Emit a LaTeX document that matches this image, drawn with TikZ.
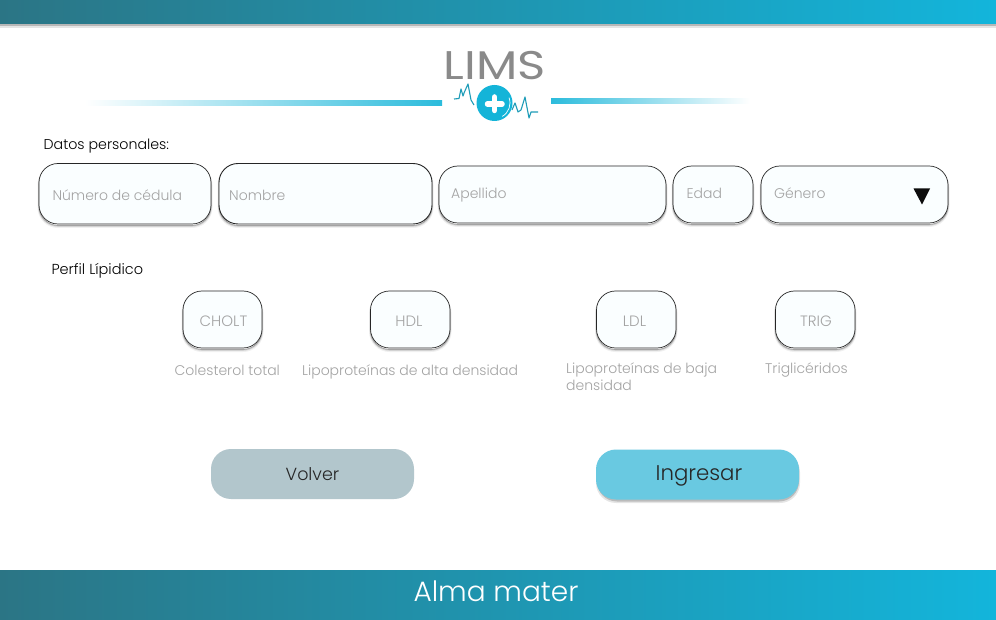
\documentclass[tikz,border=0pt]{standalone}
\usepackage{fontspec}
\setmainfont{Poppins Light}
\newfontfamily\logofont{Poppins}
\usetikzlibrary{calc}
\definecolor{barL}{HTML}{2B7585}
\definecolor{barR}{HTML}{13B5DB}
\definecolor{field}{HTML}{FAFEFF}
\definecolor{hint}{HTML}{A3A3A3}
\definecolor{logoG}{HTML}{8A8A8A}
\definecolor{logoB}{HTML}{14B4D8}
\definecolor{logoL}{HTML}{1E9CB8}
\definecolor{volver}{HTML}{B2C6CC}
\definecolor{ingresar}{HTML}{69C9E1}
\tikzset{
  x=1pt,y=-1pt,
  softshadow/.style={
    preaction={draw=black,draw opacity=.06,line width=3pt,transform canvas={yshift=-2.5pt}},
    preaction={draw=black,draw opacity=.12,line width=1.6pt,transform canvas={yshift=-2pt}},
    preaction={draw=black,draw opacity=.22,line width=.8pt,transform canvas={yshift=-1.5pt}}},
  fieldbox/.style={draw=black!85,line width=.7pt,fill=field,rounded corners=19pt,softshadow},
  hinttext/.style={anchor=base west,text=hint,font=\fontsize{14}{14}\selectfont,inner sep=0pt},
  captext/.style={anchor=base west,text=hint,font=\fontsize{14}{16}\selectfont,inner sep=0pt},
  headtext/.style={anchor=base west,text=black,inner sep=0pt},
  labtext/.style={text=hint,font=\fontsize{15}{15}\selectfont,inner sep=0pt},
  btn/.style={rounded corners=20pt,inner sep=0pt},
  ecg/.style={draw=logoL,line width=1.1pt,line join=round},
}
\begin{document}
\begin{tikzpicture}
\useasboundingbox (0,0) rectangle (996,620);
\fill[white] (0,0) rectangle (996,620);
% bars
\fill[black,opacity=.10] (0,24) rectangle (996,28);
\fill[black,opacity=.20] (0,24) rectangle (996,26);
\path[left color=barL,right color=barR] (0,0) rectangle (996,24);
\path[left color=barL,right color=barR] (0,570) rectangle (996,620);
\node (foot) at (496,591.5) [text=white,font=\fontsize{28}{28}\selectfont,inner sep=0pt] {Alma mater};
% logo
\node (lims) at (494.5,65.5) [text=logoG,font=\logofont\fontsize{40}{40}\selectfont,inner sep=0pt,xscale=1.2] {LIMS};
\path[left color=white,right color=logoB!90] (85,101) rectangle (442,106);
\path[left color=logoB!90,right color=white] (551,99) rectangle (750,104);
\draw[ecg] (454,99) -- (459,98.5) -- (461,89) -- (463,96) -- (464,93) -- (468,84) -- (471,100) -- (474,105);
\draw[ecg] (512,110) -- (515,103) -- (518,112) -- (521,110) -- (525,97) -- (529,118) -- (531,112) -- (538,112);
\fill[logoB] (494.5,103) circle (18);
\draw[white,line width=.7pt] (494.5,103) ++(60:15.5) arc (60:-20:15.5);
\draw[white,line width=5.5pt,line cap=round] (487.5,104) -- (502,104);
\draw[white,line width=5.5pt,line cap=round] (494.5,97) -- (494.5,110.5);
% personal data
\node (dp) at (43.5,150) [headtext,font=\fontsize{14.2}{14}\selectfont] {Datos personales:};
\path[fieldbox] (39,163.5) rectangle (211,224) node (f1) [midway,inner sep=0pt] {};
\path[fieldbox,line width=.9pt] (219,163.5) rectangle (432,224) node (f2) [midway,inner sep=0pt] {};
\path[fieldbox] (439,166) rectangle (666,223) node (f3) [midway,inner sep=0pt] {};
\path[fieldbox] (673,166) rectangle (753,223) node (f4) [midway,inner sep=0pt] {};
\path[fieldbox] (761,166) rectangle (948,223) node (f5) [midway,inner sep=0pt] {};
\node (t1) at (52.3,200.5) [hinttext] {Número de cédula};
\node (t2) at (229,201) [hinttext] {Nombre};
\node (t3) at (451,198.5) [hinttext] {Apellido};
\node (t4) at (686.5,198.5) [hinttext] {Edad};
\node (t5) at (774,198.5) [hinttext] {Género};
\fill[black!95] (913.5,188.5) -- (930,188.5) -- (922,204.5) -- cycle;
% lipid
\node (pl) at (51.3,274.5) [headtext,font=\fontsize{14.5}{14}\selectfont] {Perfil Lípidico};
\path[fieldbox] (183,291) rectangle (262,348) node (p1) [midway,inner sep=0pt] {};
\path[fieldbox] (370.5,291) rectangle (450,348) node (p2) [midway,inner sep=0pt] {};
\path[fieldbox] (596.5,291) rectangle (676,348) node (p3) [midway,inner sep=0pt] {};
\path[fieldbox] (775.5,291) rectangle (855,348) node (p4) [midway,inner sep=0pt] {};
\node (l1) at (223.5,321.5) [labtext] {CHOLT};
\node (l2) at (409,321) [labtext] {HDL};
\node (l3) at (634.5,321) [labtext] {LDL};
\node (l4) at (816,321) [labtext] {TRIG};
\node (c1) at (174.5,375.5) [captext] {Colesterol total};
\node (c2) at (302,375.5) [captext] {Lipoproteínas de alta densidad};
\node (c3a) at (566,373.5) [captext] {Lipoproteínas de baja};
\node (c3b) at (566,390) [captext] {densidad};
\node (c4) at (765,373.5) [captext] {Triglicéridos};
% buttons
\node (volver) at (312.5,474) [btn,minimum width=203pt,minimum height=50pt,fill=volver,text=black!85,font=\fontsize{17.5}{18}\selectfont] {Volver};
\fill[black,opacity=.10,rounded corners=20pt] (596,452) rectangle (800,503);
\fill[black,opacity=.18,rounded corners=20pt] (597,451) rectangle (799,501.5);
\node (ingresar) at (697.5,474.5) [btn,minimum width=203pt,minimum height=50pt,fill=ingresar] {};
\node (ingtext) at (699,475.5) [inner sep=0pt,text=black!85,font=\fontsize{21.3}{21}\selectfont] {Ingresar};
\end{tikzpicture}
\end{document}
